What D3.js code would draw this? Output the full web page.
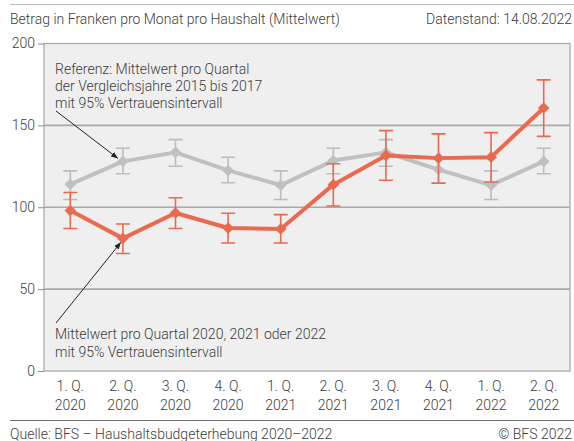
<!DOCTYPE html>
<meta charset="utf-8">
<head>
    <script src="https://d3js.org/d3.v7.min.js"></script>
    <style>
        body { margin: 0; background: #fff; }
        svg text { font-family: Roboto, 'Noto Sans', sans-serif; font-weight: 300; fill: #3c3c3c; }
    </style>
</head>
<body>
    <div id="chart"></div>
    <script>

    // data
    var quarters = ["1. Q.", "2. Q.", "3. Q.", "4. Q.", "1. Q.", "2. Q.", "3. Q.", "4. Q.", "1. Q.", "2. Q."]
    var years    = ["2020", "2020", "2020", "2020", "2021", "2021", "2021", "2021", "2022", "2022"]
    var yTicks   = [0, 50, 100, 150, 200]

    // reference 2015-2017, mean and 95% interval
    var refMean = [114, 128, 133.5, 122.5, 113.5, 128.5, 133.5, 123, 113.5, 128]
    var refLow  = [104.7, 120.5, 125, 115, 104.7, 120.5, 125, 115, 104.7, 120.5]
    var refHigh = [122.2, 136, 141.3, 130.5, 122.2, 136, 141.3, 130.5, 122.2, 136]

    // 2020-2022, mean and 95% interval
    var curMean = [98, 81, 96.5, 87.3, 86.7, 113.8, 131.6, 130, 130.6, 160.6]
    var curLow  = [87, 71.8, 87, 78.2, 78.2, 100.8, 116.5, 114.7, 115.4, 143.3]
    var curHigh = [109, 89.8, 105.8, 96.3, 95.5, 126.6, 146.8, 144.8, 145.6, 177.8]

    var width = 574
        height = 441
        margin = {top: 43.5, right: 4, bottom: 70, left: 44}
        fs = "14px"

    var svg = d3.select("#chart")
                .append("svg")
                .attr("width", width)
                .attr("height", height)

    var x = d3.scaleBand()
              .domain(d3.range(quarters.length))
              .range([margin.left, width - margin.right])
              .padding(0)

    var y = d3.scaleLinear()
              .domain([0, 200])
              .range([height - margin.bottom, margin.top])

    var cx = function(i) { return x(i) + x.bandwidth() / 2 }

    // header & footer rules
    svg.append("line").attr("x1", 10).attr("x2", width).attr("y1", 4.5).attr("y2", 4.5)
       .attr("stroke", "#bdbdbd").attr("stroke-width", 1)
    svg.append("line").attr("x1", 10).attr("x2", width).attr("y1", 420.5).attr("y2", 420.5)
       .attr("stroke", "#6e6e6e").attr("stroke-width", 1.2)

    svg.append("text").attr("x", 10).attr("y", 24).style("font-size", fs)
       .text("Betrag in Franken pro Monat pro Haushalt (Mittelwert)")
    svg.append("text").attr("x", 572).attr("y", 24).style("font-size", fs)
       .attr("text-anchor", "end").text("Datenstand: 14.08.2022")
    svg.append("text").attr("x", 10).attr("y", 439).style("font-size", fs)
       .text("Quelle: BFS \u2013 Haushaltsbudgeterhebung 2020\u20132022")
    svg.append("text").attr("x", 572).attr("y", 439).style("font-size", fs)
       .attr("text-anchor", "end").text("\u00a9 BFS 2022")

    // plot background
    svg.append("rect")
       .attr("x", margin.left).attr("y", y(200))
       .attr("width", width - margin.right - margin.left)
       .attr("height", y(0) - y(200))
       .attr("fill", "#efefef")
       .attr("stroke", "#a6a6a6")
       .attr("stroke-width", 1.2)

    // gridlines
    svg.selectAll("grid")
       .data([50, 100, 150])
       .enter()
       .append("line")
       .attr("x1", margin.left).attr("x2", width - margin.right)
       .attr("y1", function(d) { return y(d) }).attr("y2", function(d) { return y(d) })
       .attr("stroke", "#a9a9a9")
       .attr("stroke-width", 1.6)

    // y axis
    var yAxis = svg.append("g")
       .attr("transform", "translate(" + margin.left + ",0)")
       .call(d3.axisLeft(y).tickValues(yTicks).tickSize(6).tickPadding(3))
    yAxis.select(".domain").remove()
    yAxis.selectAll(".tick line").attr("stroke", "#8c8c8c")
    yAxis.selectAll(".tick text").style("font-size", fs).attr("fill", "#3c3c3c")

    // x labels (two lines)
    var xl = svg.append("g").selectAll("xlab")
       .data(quarters)
       .enter()
       .append("text")
       .attr("text-anchor", "middle")
       .style("font-size", fs)
    xl.append("tspan").attr("x", function(d, i) { return cx(i) }).attr("y", 391)
      .text(function(d) { return d })
    xl.append("tspan").attr("x", function(d, i) { return cx(i) }).attr("y", 410)
      .text(function(d, i) { return years[i] })

    // series drawing helper
    function drawSeries(mean, low, high, color, barColor) {
        var g = svg.append("g")
        var idx = d3.range(mean.length)
        var capW = 7

        g.selectAll("err")
         .data(idx).enter().append("path")
         .attr("d", function(i) {
             var px = cx(i)
             return "M" + (px - capW) + "," + y(high[i]) + "H" + (px + capW)
                  + "M" + px + "," + y(high[i]) + "V" + y(low[i])
                  + "M" + (px - capW) + "," + y(low[i]) + "H" + (px + capW)
         })
         .attr("fill", "none")
         .attr("stroke", barColor)
         .attr("stroke-width", 1.6)

        g.append("path")
         .datum(idx)
         .attr("d", d3.line().x(function(i) { return cx(i) }).y(function(i) { return y(mean[i]) }))
         .attr("fill", "none")
         .attr("stroke", color)
         .attr("stroke-width", 4)
         .attr("stroke-linejoin", "round")

        g.selectAll("pt")
         .data(idx).enter().append("path")
         .attr("d", d3.symbol().type(d3.symbolSquare).size(68))
         .attr("transform", function(i) { return "translate(" + cx(i) + "," + y(mean[i]) + ") rotate(45)" })
         .attr("fill", color)
    }

    drawSeries(refMean, refLow, refHigh, "#c0c0c0", "#bdbdbd")
    drawSeries(curMean, curLow, curHigh, "#ea6a50", "#ea6a50")

    // annotations
    svg.append("defs").append("marker")
       .attr("id", "arrow")
       .attr("viewBox", "0 0 10 10")
       .attr("refX", 10).attr("refY", 5)
       .attr("markerWidth", 7).attr("markerHeight", 7)
       .attr("orient", "auto")
       .append("path").attr("d", "M0,1L10,5L0,9z").attr("fill", "#222")

    var note1 = ["Referenz: Mittelwert pro Quartal", "der Vergleichsjahre 2015 bis 2017", "mit 95% Vertrauensintervall"]
    var note2 = ["Mittelwert pro Quartal 2020, 2021 oder 2022", "mit 95% Vertrauensintervall"]

    svg.selectAll("n1").data(note1).enter().append("text")
       .attr("x", 55).attr("y", function(d, i) { return 74 + i * 17 })
       .style("font-size", fs).text(function(d) { return d })
    svg.selectAll("n2").data(note2).enter().append("text")
       .attr("x", 55).attr("y", function(d, i) { return 339 + i * 18 })
       .style("font-size", fs).text(function(d) { return d })

    svg.append("line")
       .attr("x1", 56).attr("y1", 111)
       .attr("x2", cx(1) - 5).attr("y2", y(refMean[1]) - 3)
       .attr("stroke", "#222").attr("stroke-width", 1)
       .attr("marker-end", "url(#arrow)")
    svg.append("line")
       .attr("x1", 56).attr("y1", 323)
       .attr("x2", cx(1) - 2).attr("y2", y(curMean[1]) + 4)
       .attr("stroke", "#222").attr("stroke-width", 1)
       .attr("marker-end", "url(#arrow)")
    </script>
</body>
